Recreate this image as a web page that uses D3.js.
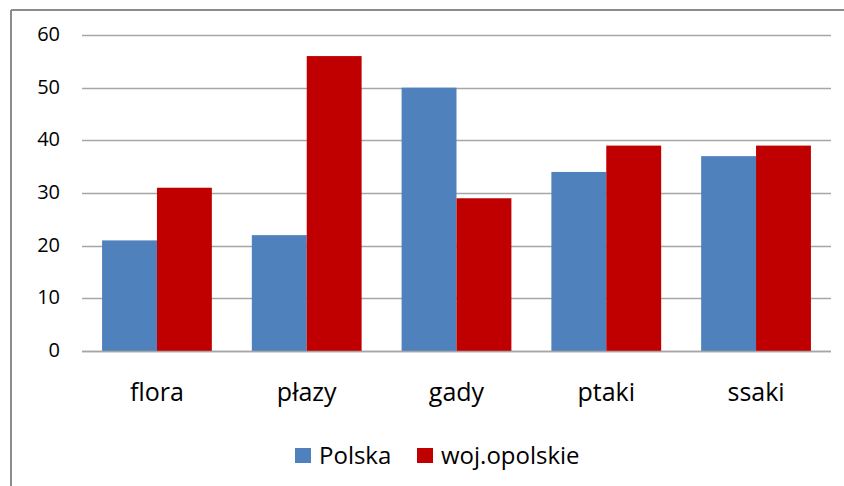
<!DOCTYPE html>
<html>
<head>
<meta charset="utf-8">
<script src="https://cdn.jsdelivr.net/npm/d3@7"></script>
<style>
  body { margin: 0; background: #fff; }
  text { font-family: "Open Sans", "Noto Sans", sans-serif; fill: #000; }
</style>
</head>
<body>
<div id="chart"></div>
<script>
var categories = ["flora", "płazy", "gady", "ptaki", "ssaki"];
var seriesNames = ["Polska", "woj.opolskie"];
var polska = [21, 22, 50, 34, 37];
var opolskie = [31, 56, 29, 39, 39];
var yTicks = [0, 10, 20, 30, 40, 50, 60];
var colors = ["#4F81BD", "#C00000"];

var width = 844, height = 486;
var margin = {top: 35, right: 13, bottom: 135, left: 82};

var svg = d3.select("#chart").append("svg")
    .attr("width", width)
    .attr("height", height);

// outer chart frame (only top and left edges visible)
svg.append("line")
    .attr("x1", 11).attr("y1", 10).attr("x2", width).attr("y2", 10)
    .style("stroke", "#8c8c8c").style("stroke-width", "2px");
svg.append("line")
    .attr("x1", 11).attr("y1", 10).attr("x2", 11).attr("y2", height)
    .style("stroke", "#8c8c8c").style("stroke-width", "2px");

var g = svg.append("g")
    .attr("transform", "translate(" + margin.left + "," + margin.top + ")");

var w = width - margin.left - margin.right,
    h = height - margin.top - margin.bottom;

var x0 = d3.scaleBand()
    .domain(categories)
    .range([0, w])
    .paddingInner(0.267)
    .paddingOuter(0.134);

var x1 = d3.scaleBand()
    .domain(seriesNames)
    .range([0, x0.bandwidth()]);

var y = d3.scaleLinear()
    .domain([0, 60])
    .range([h, 0]);

// gridlines
g.selectAll(".grid")
    .data(yTicks)
    .enter().append("line")
    .attr("class", "grid")
    .attr("x1", 0)
    .attr("x2", w)
    .attr("y1", function(d) { return Math.round(y(d)) + 0.5; })
    .attr("y2", function(d) { return Math.round(y(d)) + 0.5; })
    .style("stroke", "#a6a6a6")
    .style("stroke-width", "1.5px");

// y axis labels
var yAxis = d3.axisLeft(y).tickValues(yTicks).tickSize(0).tickPadding(22);
g.append("g")
    .call(yAxis)
    .call(function(a) { a.select(".domain").remove(); })
    .selectAll("text")
    .attr("dy", "0.28em")
    .style("font-size", "20px")
    .style("font-family", "'Open Sans', sans-serif")
    .attr("fill", "#000");

var data = categories.map(function(c, i) {
    return {cat: c, values: [polska[i], opolskie[i]]};
});

var groups = g.selectAll(".cat")
    .data(data)
    .enter().append("g")
    .attr("class", "cat")
    .attr("transform", function(d) { return "translate(" + x0(d.cat) + ",0)"; });

groups.selectAll("rect")
    .data(function(d) { return d.values.map(function(v, j) { return {name: seriesNames[j], value: v, j: j}; }); })
    .enter().append("rect")
    .attr("x", function(d) { return x1(d.name); })
    .attr("width", x1.bandwidth())
    .attr("y", function(d) { return y(d.value); })
    .attr("height", function(d) { return h - y(d.value); })
    .style("fill", function(d) { return colors[d.j]; });

// x axis line drawn over the bars
g.append("line")
    .attr("x1", 0).attr("x2", w)
    .attr("y1", h + 0.5).attr("y2", h + 0.5)
    .style("stroke", "#a6a6a6")
    .style("stroke-width", "1.5px");

// category labels
var xAxis = d3.axisBottom(x0).tickSize(0).tickPadding(32);
g.append("g")
    .attr("transform", "translate(0," + h + ")")
    .call(xAxis)
    .call(function(a) { a.select(".domain").remove(); })
    .selectAll("text")
    .style("font-size", "25px")
    .style("font-family", "'Open Sans', sans-serif")
    .attr("fill", "#000");

// legend
var legendX = [295, 417];
var legend = svg.selectAll(".legend")
    .data(seriesNames)
    .enter().append("g")
    .attr("class", "legend")
    .attr("transform", function(d, i) { return "translate(" + legendX[i] + ",448)"; });

legend.append("rect")
    .attr("width", 16)
    .attr("height", 15)
    .style("fill", function(d, i) { return colors[i]; });

legend.append("text")
    .attr("x", 24)
    .attr("y", 16)
    .style("font-size", "24px")
    .text(function(d) { return d; });
</script>
</body>
</html>
